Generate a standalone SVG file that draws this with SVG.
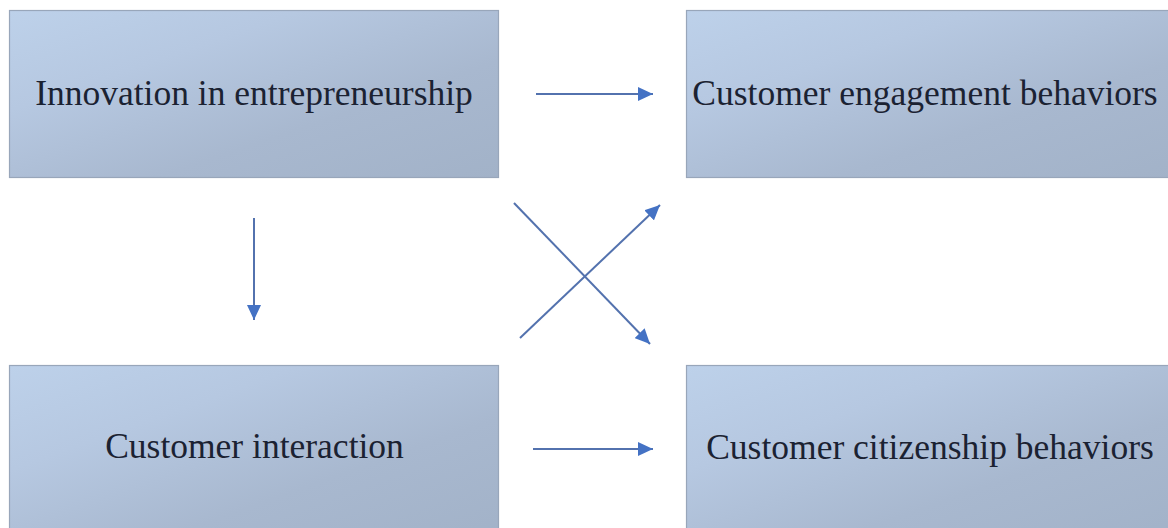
<svg xmlns="http://www.w3.org/2000/svg" width="1168" height="528" viewBox="0 0 1168 528">
  <style>
    .box { stroke: #98a6ba; stroke-width: 1.2; }
    .label { font-family: "Liberation Serif", "Times New Roman", serif; font-size: 35.5px; fill: #1b2232; }
    .link { stroke: #5372ae; stroke-width: 2; fill: none; marker-end: url(#head); }
  </style>
  <defs>
    <linearGradient id="boxFill" x1="0" y1="0" x2="1" y2="1">
      <stop offset="0" stop-color="#bdd1ea"/>
      <stop offset="0.3" stop-color="#b6c8e1"/>
      <stop offset="0.65" stop-color="#a8b8cf"/>
      <stop offset="1" stop-color="#a2b2c8"/>
    </linearGradient>
    <marker id="head" markerUnits="userSpaceOnUse" markerWidth="16" markerHeight="14" refX="15" refY="7" orient="auto">
      <path d="M0,0 L15,7 L0,14 z" fill="#4472c4"/>
    </marker>
  </defs>
  <rect width="1168" height="528" fill="#ffffff"/>

  <g id="node-innovation">
    <rect class="box" x="9.5" y="10.5" width="489" height="167" fill="url(#boxFill)"/>
    <text class="label" x="254" y="105" text-anchor="middle">Innovation in entrepreneurship</text>
  </g>

  <g id="node-engagement">
    <rect class="box" x="686.5" y="10.5" width="490" height="167" fill="url(#boxFill)"/>
    <text class="label" x="925" y="105" text-anchor="middle">Customer engagement behaviors</text>
  </g>

  <g id="node-interaction">
    <rect class="box" x="9.5" y="365.5" width="489" height="175" fill="url(#boxFill)"/>
    <text class="label" x="254.5" y="458" text-anchor="middle">Customer interaction</text>
  </g>

  <g id="node-citizenship">
    <rect class="box" x="686.5" y="365.5" width="490" height="175" fill="url(#boxFill)"/>
    <text class="label" x="930" y="459" text-anchor="middle">Customer citizenship behaviors</text>
  </g>

  <g id="connectors">
    <line class="link" x1="536" y1="94" x2="653" y2="94"/>
    <line class="link" x1="254" y1="218" x2="254" y2="320"/>
    <line class="link" x1="533" y1="449" x2="653" y2="449"/>
    <line class="link" x1="520" y1="338" x2="660" y2="205"/>
    <line class="link" x1="514" y1="203" x2="650" y2="344"/>
  </g>
</svg>
